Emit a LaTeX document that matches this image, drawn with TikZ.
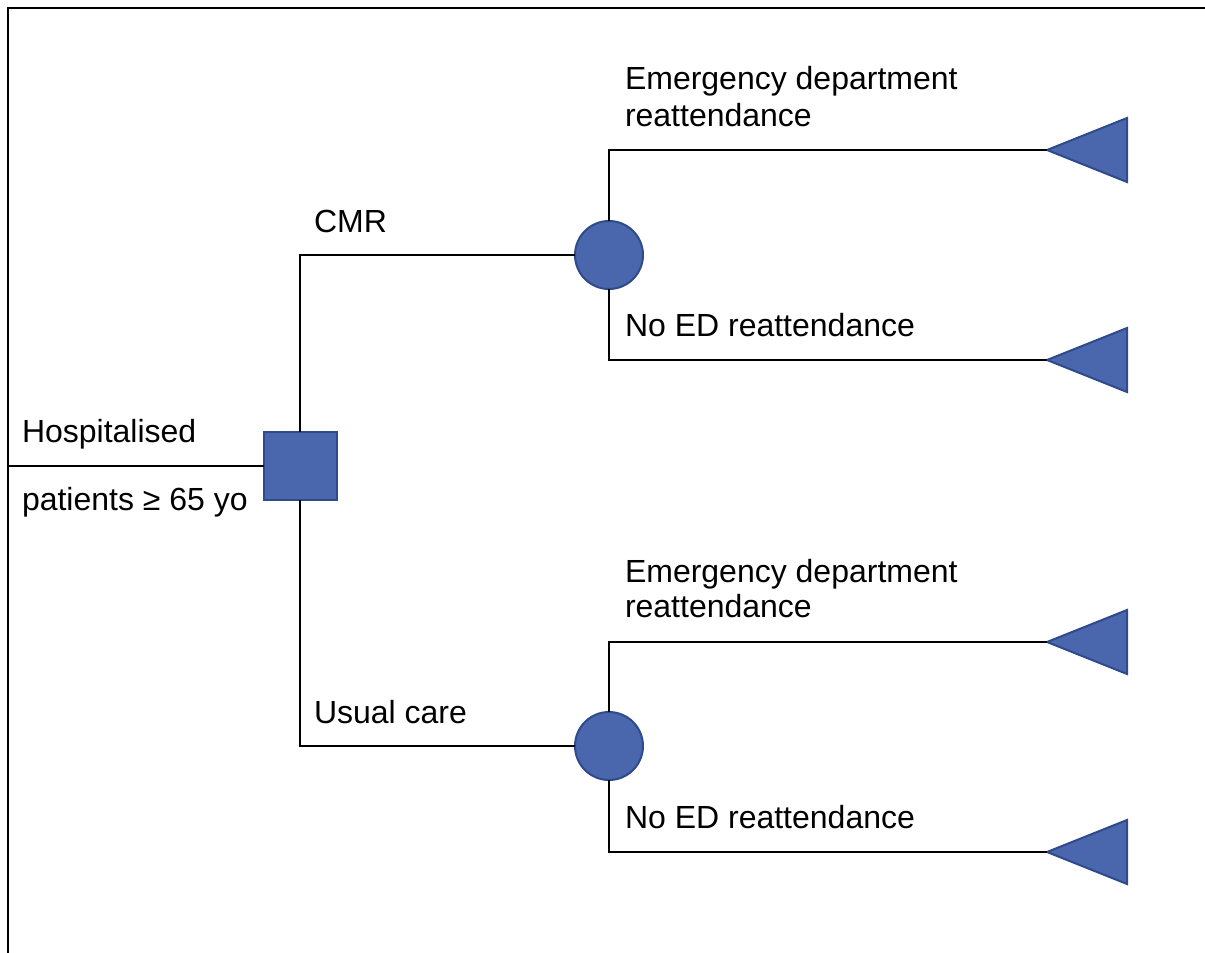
\documentclass[tikz,border=0pt]{standalone}
\usepackage{fontspec}
\setmainfont{Liberation Sans}
\usetikzlibrary{shapes.geometric}
\definecolor{nodefill}{HTML}{4A66AC}
\definecolor{nodeedge}{HTML}{2F4B8C}
\begin{document}
\begin{tikzpicture}[x=1pt,y=-1pt,line width=2pt,
	decision/.style={rectangle,draw=nodeedge,fill=nodefill,minimum width=73pt,minimum height=68pt,inner sep=0pt,outer sep=0pt},
	chance/.style={circle,draw=nodeedge,fill=nodefill,minimum size=68pt,inner sep=0pt,outer sep=0pt},
	payoff/.style={isosceles triangle,isosceles triangle stretches,shape border rotate=180,draw=nodeedge,fill=nodefill,minimum width=64pt,minimum height=80pt,inner sep=0pt,outer sep=0pt,anchor=apex},
	lbl/.style={anchor=base west,inner sep=0pt,font=\fontsize{32}{37}\selectfont}]
	\useasboundingbox (0,0) rectangle (1205,953);
	\draw[line width=2.5pt] (1205,8) -- (8,8) -- (8,953);
	\coordinate (root) at (8,466);
	\node[decision] (dec) at (300,466) {};
	\node[chance] (cmr) at (609,255) {};
	\node[chance] (uc) at (609,746) {};
	\node[payoff] (cmred) at (1047,150) {};
	\node[payoff] (cmrno) at (1047,360) {};
	\node[payoff] (uced) at (1047,642) {};
	\node[payoff] (ucno) at (1047,852) {};
	\draw (root) -- (dec.west);
	\draw (dec.north) |- (cmr.west);
	\draw (dec.south) |- (uc.west);
	\draw (cmr.north) |- (cmred.apex);
	\draw (cmr.south) |- (cmrno.apex);
	\draw (uc.north) |- (uced.apex);
	\draw (uc.south) |- (ucno.apex);
	\node[lbl] (hosp) at (21,442) {Hospitalised};
	\node[lbl] (pat) at (21,510) {patients ≥ 65 yo};
	\node[lbl] (cmrlbl) at (313,232) {CMR};
	\node[lbl] (uclbl) at (313,723) {Usual care};
	\node[lbl] (cmredA) at (624,89) {Emergency department};
	\node[lbl] (cmredB) at (624,126) {reattendance};
	\node[lbl] (cmrnolbl) at (624,336) {No ED reattendance};
	\node[lbl] (ucedA) at (624,582) {Emergency department};
	\node[lbl] (ucedB) at (624,617) {reattendance};
	\node[lbl] (ucnolbl) at (624,828) {No ED reattendance};
\end{tikzpicture}
\end{document}
